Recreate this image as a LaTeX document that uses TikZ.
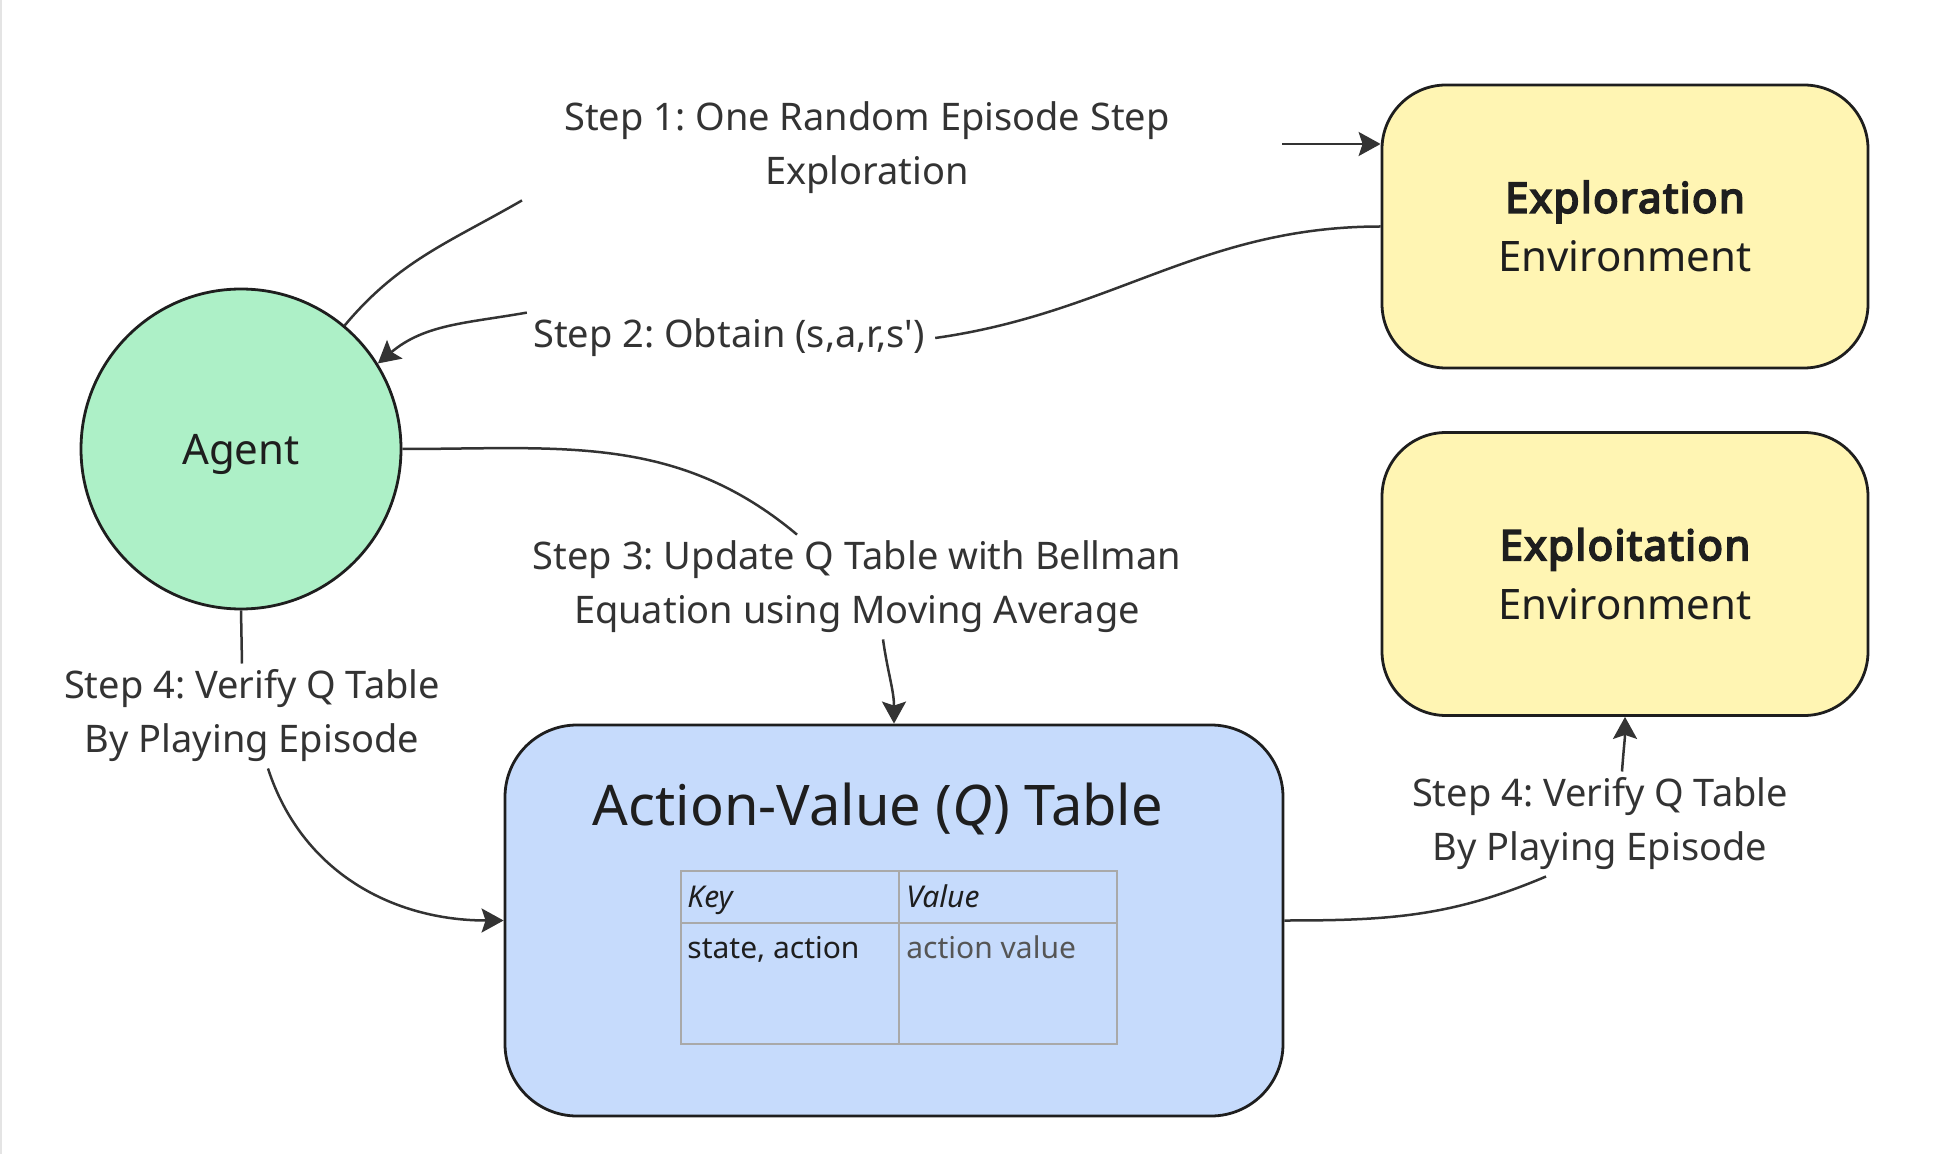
\documentclass[tikz,border=0pt]{standalone}
\usepackage{fontspec}
\setmainfont{Noto Sans}
\newfontfamily\envhead{Noto Sans}[FakeBold=4.5,LetterSpace=3.5]
\usetikzlibrary{arrows.meta,calc}
\definecolor{agentgreen}{HTML}{ADF0C7}
\definecolor{envyellow}{HTML}{FFF5B3}
\definecolor{qblue}{HTML}{C6DBFC}
\definecolor{inkdark}{HTML}{1E1E1E}
\definecolor{linedark}{HTML}{333333}
\definecolor{cellgray}{HTML}{A9A9A9}
\definecolor{textgray}{HTML}{555555}
\definecolor{edgegray}{HTML}{E4E4E4}
\frenchspacing
\begin{document}
\begin{tikzpicture}[x=0.5pt, y=-0.5pt, >={Stealth[length=11pt,width=12pt,inset=2pt]},
  box/.style={draw=inkdark, line width=1.4pt, text=inkdark},
  agentnode/.style={box, circle, fill=agentgreen, minimum size=160pt, inner sep=0pt, text depth=0pt, font=\fontsize{21pt}{29.5pt}\selectfont},
  envnode/.style={box, rectangle, rounded corners=32pt, fill=envyellow, minimum width=243pt, minimum height=141.5pt, align=center, font=\fontsize{21pt}{29.5pt}\selectfont},
  qnode/.style={box, rectangle, rounded corners=36pt, fill=qblue, minimum width=389pt, minimum height=195.5pt},
  steplabel/.style={text=linedark, align=center, inner xsep=5pt, inner ysep=3pt, font=\fontsize{19pt}{27pt}\selectfont},
  conn/.style={draw=linedark, line width=1.25pt},
  celltext/.style={anchor=base west, inner sep=0pt, text=inkdark, font=\fontsize{15pt}{18pt}\selectfont},
  cellline/.style={draw=cellgray, line width=1pt}]
\useasboundingbox (0,0) rectangle (1948,1154);
\draw[edgegray, line width=1pt] (1,0) -- (1,1154);
% nodes
\node[agentnode] (agent) at (241,449) {Agent};
\node[envnode] (expl) at (1625,226.5) {{\envhead Exploration}\\Environment};
\node[envnode] (exploit) at (1625,574) {{\envhead Exploitation}\\Environment};
\node[qnode] (qtab) at (894,920.5) {};
\node[anchor=base, inner sep=0pt, text=inkdark, font=\fontsize{28pt}{32pt}\selectfont] (qtitle) at (878,825) {Action-Value (\textit{Q}) Table};
% the key/value table
\draw[cellline] (681,871) rectangle (1117,1044) (681,923) -- (1117,923) (899,871) -- (899,1044);
\node[celltext] (keyhead) at (687,907) {\textit{Key}};
\node[celltext] (valhead) at (906,907) {\textit{Value}};
\node[celltext] (keycell) at (687,958) {state, action};
\node[celltext, text=textgray] (valcell) at (906,958) {action value};
% edge labels
\node[steplabel, minimum width=415pt] (l1) at (867,148) {Step 1: One Random Episode Step\\Exploration};
\node[steplabel] (l2) at (729,338) {Step 2: Obtain (s,a,r,s\textquotesingle)};
\node[steplabel] (l3) at (857,587) {Step 3: Update Q Table with Bellman\\Equation using Moving Average};
\node[steplabel] (l4a) at (252,716) {Step 4: Verify Q Table\\By Playing Episode};
\node[steplabel] (l4b) at (1600,824) {Step 4: Verify Q Table\\By Playing Episode};
% connectors
\draw[conn] (agent.50) to[out=50,in=210] ($(l1.south)+(-345,0)$);
\draw[conn,->] ($(l1.east)+(0,-4)$) -- ($(l1.east -| expl.west)+(0,-4)$);
\draw[conn] (expl.west) to[out=180,in=8] (l2.east);
\draw[conn,->] ($(l2.north west)+(4,0)$) to[out=190,in=40] (agent.32);
\draw[conn] (agent.east) to[out=0,in=140] ($(l3.north)+(-60,0)$);
\draw[conn,->] ($(l3.south)+(26,0)$) to[out=-82,in=90] (qtab.north);
\draw[conn] (agent.south) -- ($(l4a.north)+(-10,0)$);
\draw[conn,->] ($(l4a.south)+(16,0)$) to[out=-72,in=180] (qtab.west);
\draw[conn] (qtab.east) to[out=0,in=203] ($(l4b.south)+(-54,0)$);
\draw[conn,->] ($(l4b.north)+(22,0)$) to[out=86,in=-90] (exploit.south);
\end{tikzpicture}
\end{document}
